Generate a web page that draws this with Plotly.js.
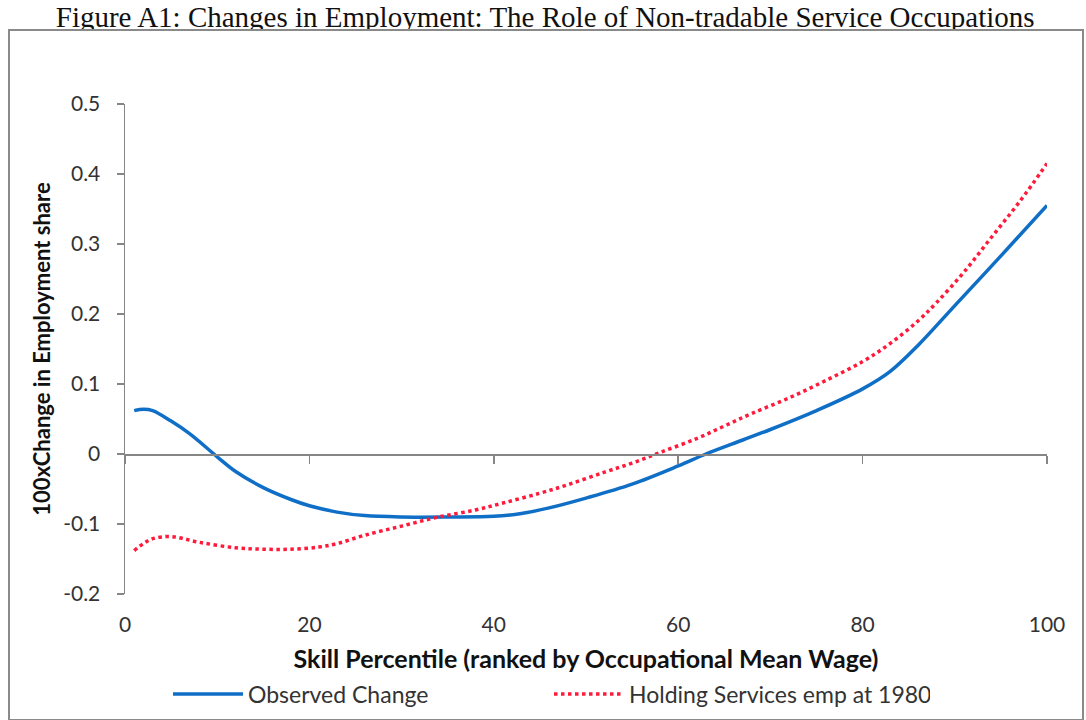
<!DOCTYPE html>
<html>
<head>
<meta charset="utf-8">
<script src="https://cdn.plot.ly/plotly-3.0.1.min.js"></script>
<style>
  html, body { margin: 0; padding: 0; background: #fff; }
  #wrap { position: relative; width: 1086px; height: 720px; overflow: hidden; }
  #chart { position: absolute; left: 0; top: 0; width: 1086px; height: 720px; }
  #frame { position: absolute; left: 8px; top: 29px; width: 1072px; height: 688px;
           border: 2px solid #8a8a8a; pointer-events: none; z-index: 5; }
  #strip { position: absolute; left: 10px; top: 31px; width: 1070px; height: 7px;
           background: #fff; pointer-events: none; z-index: 4; }
</style>
</head>
<body>
<div id="wrap">
  <div id="chart"></div>
  <div id="strip"></div>
  <div id="frame"></div>
</div>
<script>
// ---- data ----
const observedX = [1, 2, 3, 5, 7, 10, 12, 15, 18, 20, 23, 26, 30, 35, 40, 43, 46, 50, 55, 60, 63, 67, 70, 75, 80, 83, 86, 90, 95, 100];
const observedY = [0.062, 0.064, 0.062, 0.047, 0.029, -0.004, -0.025, -0.048, -0.065, -0.074, -0.083, -0.088, -0.090, -0.090, -0.089, -0.085, -0.077, -0.063, -0.043, -0.017, 0.0, 0.020, 0.035, 0.062, 0.093, 0.118, 0.155, 0.212, 0.283, 0.355];

const holdingX = [1, 2, 3, 5, 8, 12, 15, 18, 21, 23, 26, 30, 34, 38, 41, 45, 48, 52, 55, 58, 62, 65, 68, 72, 76, 80, 83, 86, 88, 91, 94, 97, 100];
const holdingY = [-0.138, -0.128, -0.121, -0.118, -0.126, -0.134, -0.136, -0.136, -0.133, -0.128, -0.116, -0.103, -0.090, -0.080, -0.070, -0.056, -0.044, -0.026, -0.013, 0.002, 0.022, 0.040, 0.058, 0.080, 0.105, 0.132, 0.158, 0.190, 0.216, 0.260, 0.310, 0.360, 0.415];

const seriesNames = ["Observed Change", "Holding Services emp at 1980"];
const xTickVals = [0, 20, 40, 60, 80, 100];
const xTickText = ["0", "20", "40", "60", "80", "100"];
const yTickVals = [-0.2, -0.1, 0, 0.1, 0.2, 0.3, 0.4, 0.5];
const yTickText = ["-0.2", "-0.1", "0", "0.1", "0.2", "0.3", "0.4", "0.5"];

const chartTitle = "Figure A1: Changes in Employment: The Role of Non-tradable Service Occupations";
const xTitle = "Skill Percentile (ranked by Occupational Mean Wage)";
const yTitle = "100xChange in Employment share";

const sansFont = "Lato, 'Open Sans', sans-serif";
const axisGray = "#868686";

const traces = [
  {
    x: observedX, y: observedY, name: seriesNames[0], type: "scatter", mode: "lines",
    line: { color: "#0f6fc6", width: 3.5, shape: "spline", smoothing: 1 },
    xaxis: "x", yaxis: "y"
  },
  {
    x: holdingX, y: holdingY, name: seriesNames[1], type: "scatter", mode: "lines",
    line: { color: "#ff1a3c", width: 3.5, dash: "dot", shape: "spline", smoothing: 1 },
    xaxis: "x", yaxis: "y"
  },
  // invisible trace on the overlay axis so the zero line with ticks is drawn
  {
    x: [0, 100], y: [0, 0], xaxis: "x2", yaxis: "y", mode: "lines",
    line: { width: 0 }, showlegend: false, hoverinfo: "skip"
  }
];

const layout = {
  width: 1086, height: 720,
  paper_bgcolor: "#ffffff", plot_bgcolor: "#ffffff",
  margin: { l: 125, r: 39, t: 104, b: 126 },
  showlegend: true,
  title: {
    text: chartTitle,
    font: { family: "'Liberation Serif', 'DejaVu Serif', serif", size: 29, color: "#111" },
    x: 0.502, xref: "container", xanchor: "center",
    y: 0.976, yref: "container", yanchor: "middle"
  },
  xaxis: {
    range: [0, 100], tickvals: xTickVals, ticktext: xTickText,
    showline: false, showgrid: false, zeroline: false, ticks: "",
    automargin: false,
    ticklabelstandoff: 16,
    tickfont: { family: sansFont, size: 21, color: "#333" },
    title: { text: xTitle, font: { family: sansFont, size: 25, color: "#111", weight: "bold" }, standoff: 18 }
  },
  xaxis2: {
    overlaying: "x", matches: "x", anchor: "free", position: 2 / 7,
    range: [0, 100], tickvals: xTickVals, showticklabels: false,
    showline: true, linecolor: axisGray, linewidth: 1.5,
    ticks: "outside", ticklen: 8, tickcolor: axisGray, tickwidth: 1.5,
    showgrid: false, zeroline: false, automargin: false
  },
  yaxis: {
    range: [-0.2, 0.5], tickvals: yTickVals, ticktext: yTickText,
    showline: true, linecolor: axisGray, linewidth: 1.5,
    ticks: "outside", ticklen: 7, tickcolor: axisGray, tickwidth: 1.5,
    showgrid: false, zeroline: false, automargin: false,
    ticklabelstandoff: 12,
    tickfont: { family: sansFont, size: 21, color: "#333" },
    title: { text: yTitle, font: { family: sansFont, size: 22, color: "#111", weight: "bold" }, standoff: 6 }
  },
  legend: {
    orientation: "h",
    xref: "container", x: 168 / 1086, xanchor: "left",
    yref: "container", y: 26 / 720, yanchor: "middle",
    font: { family: sansFont, size: 23, color: "#333" },
    itemwidth: 70, entrywidth: 296, tracegroupgap: 0,
    bgcolor: "rgba(0,0,0,0)", borderwidth: 0
  }
};

Plotly.newPlot("chart", traces, layout, { displayModeBar: false, staticPlot: true });
</script>
</body>
</html>
